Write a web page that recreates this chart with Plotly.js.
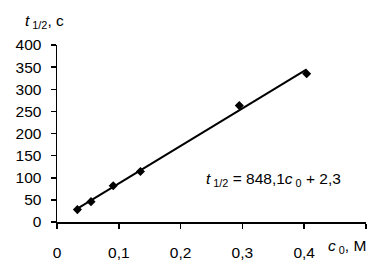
<!DOCTYPE html>
<html>
<head>
<meta charset="utf-8">
<script src="https://cdn.plot.ly/plotly-3.0.1.min.js"></script>
<style>html,body{margin:0;padding:0;background:#fff;}#chart{width:385px;height:273px;}</style>
</head>
<body>
<div id="chart"></div>
<script>
// Data
const concentration = [0.033, 0.055, 0.091, 0.135, 0.295, 0.404];   // c0, M
const halfLife = [28, 46, 82, 114, 263, 335];                        // t1/2, s
const trendX = [0.033, 0.404];
const trendY = [30.3, 345];
const xTickVals = [0, 0.1, 0.2, 0.3, 0.4, 0.5];
const xTickText = ["0", "0,1", "0,2", "0,3", "0,4", ""];
const yTickVals = [0, 50, 100, 150, 200, 250, 300, 350, 400];
const yTickText = ["0", "50", "100", "150", "200", "250", "300", "350", "400"];

const font = {family: "Liberation Sans, Arial, sans-serif", size: 15.5, color: "#000"};

const traces = [
  {x: trendX, y: trendY, mode: "lines", line: {color: "#000", width: 2}, hoverinfo: "skip"},
  {x: concentration, y: halfLife, mode: "markers",
   marker: {symbol: "diamond", size: 7, color: "#000"}}
];

const layout = {
  width: 385, height: 273,
  margin: {l: 57, r: 19, t: 45, b: 51},
  paper_bgcolor: "#fff", plot_bgcolor: "#fff",
  showlegend: false,
  font: font,
  xaxis: {
    range: [0, 0.5], tickmode: "array", tickvals: xTickVals, ticktext: xTickText,
    showgrid: false, zeroline: false, showline: true, linecolor: "#000", linewidth: 1.5,
    ticks: "outside", ticklen: 5, tickcolor: "#000", tickwidth: 1.5,
    ticklabelstandoff: 11, tickfont: font
  },
  yaxis: {
    range: [0, 400], tickmode: "array", tickvals: yTickVals, ticktext: yTickText,
    showgrid: false, zeroline: false, showline: true, linecolor: "#000", linewidth: 1.5,
    ticks: "outside", ticklen: 5, tickcolor: "#000", tickwidth: 1.5,
    ticklabelstandoff: 6, tickfont: font
  },
  annotations: [
    {xref: "paper", yref: "paper", x: 0.94, y: -0.14, xanchor: "center", yanchor: "middle",
     text: "<i>c</i><sub> 0</sub>, M", showarrow: false, font: font},
    {xref: "x", yref: "y", x: 0.238, y: 95, xanchor: "left", yanchor: "middle",
     text: "<i>t</i><sub> 1/2</sub> = 848,1<i>c</i><sub> 0</sub> + 2,3", showarrow: false, font: font},
    {xref: "paper", yref: "paper", x: -0.11, y: 1.135, xanchor: "left", yanchor: "middle",
     text: "<i>t</i><sub> 1/2</sub>, c", showarrow: false, font: font}
  ]
};

Plotly.newPlot("chart", traces, layout, {staticPlot: true, displayModeBar: false});
</script>
</body>
</html>
